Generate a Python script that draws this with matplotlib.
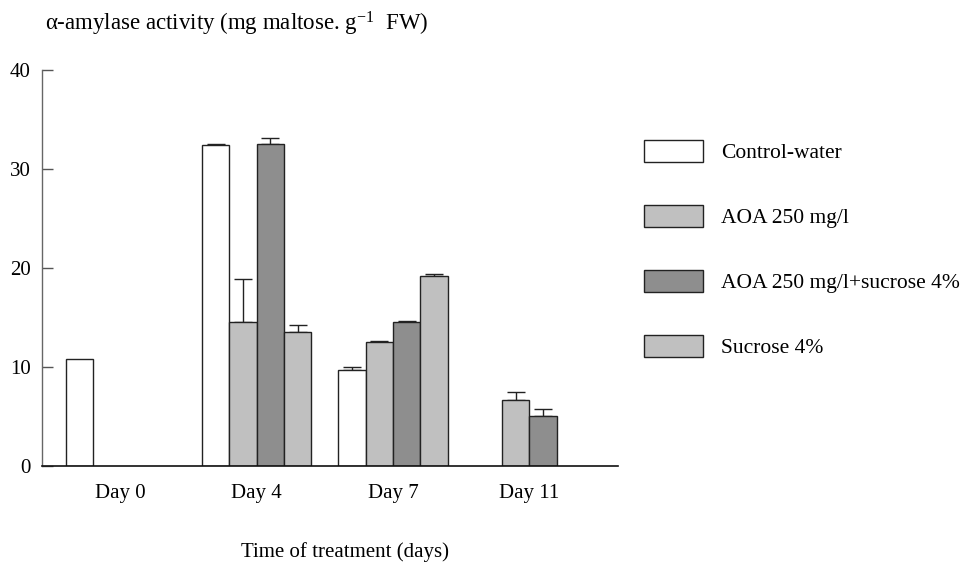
import matplotlib
matplotlib.use("Agg")
import matplotlib.pyplot as plt
import numpy as np
from matplotlib.patches import Patch

plt.rcParams['font.family'] = ['Liberation Serif', 'DejaVu Serif']
plt.rcParams['mathtext.fontset'] = 'custom'
plt.rcParams['mathtext.rm'] = 'Liberation Serif'
plt.rcParams['mathtext.it'] = 'Liberation Serif:italic'

days = ["Day 0", "Day 4", "Day 7", "Day 11"]
series = ["Control-water", "AOA 250 mg/l", "AOA 250 mg/l+sucrose 4%", "Sucrose 4%"]
control = [10.85, 32.4, 9.7, np.nan]
aoa = [np.nan, 14.55, 12.55, 6.7]
aoa_suc = [np.nan, 32.55, 14.55, 5.1]
sucrose = [np.nan, 13.5, 19.15, np.nan]
control_err = [0.0, 0.1, 0.25, np.nan]
aoa_err = [np.nan, 4.35, 0.1, 0.8]
aoa_suc_err = [np.nan, 0.55, 0.05, 0.65]
sucrose_err = [np.nan, 0.7, 0.2, np.nan]

values = [control, aoa, aoa_suc, sucrose]
errors = [control_err, aoa_err, aoa_suc_err, sucrose_err]
colors = ["#ffffff", "#c0c0c0", "#8e8e8e", "#c0c0c0"]

fig = plt.figure(figsize=(9.62, 5.66), dpi=100)
ax = fig.add_axes([42/962, 1-466/566, 576/962, 396/566])

group_step = 5
for i, (vals, errs, col) in enumerate(zip(values, errors, colors)):
    vals = np.array(vals, dtype=float)
    errs = np.array(errs, dtype=float)
    x = np.arange(len(days)) * group_step + i
    m = ~np.isnan(vals)
    ax.bar(x[m], vals[m], width=1.0, color=col, edgecolor="#222222", linewidth=1.0, zorder=2)
    em = m & ~np.isnan(errs) & (np.nan_to_num(errs) > 0)
    if em.any():
        ax.errorbar(x[em], vals[em], yerr=[np.zeros(em.sum()), errs[em]], fmt='none',
                    ecolor='#222222', elinewidth=1.0, capsize=6.5, capthick=1.0, zorder=1)

ax.set_xlim(-1.368, 19.75)
ax.set_ylim(0, 40)
ax.set_yticks([0, 10, 20, 30, 40])
ax.set_xticks(np.arange(len(days)) * group_step + 1.5)
ax.set_xticklabels(days)
ax.tick_params(axis='x', length=0, pad=13, labelsize=15)
ax.tick_params(axis='y', direction='in', length=8, width=1, color='#555555', pad=8, labelsize=15)
for s in ['top', 'right']:
    ax.spines[s].set_visible(False)
ax.spines['left'].set_color('#666666')
ax.spines['left'].set_linewidth(1.0)
ax.spines['bottom'].set_color('#111111')
ax.spines['bottom'].set_linewidth(1.2)

ax.set_xlabel("Time of treatment (days)", fontsize=15, va='center')
ax.xaxis.set_label_coords((345-42)/576, (466-552)/396)

fig.text(45/962, 1-30/566, "α-amylase activity (mg maltose. g$^{\\mathrm{-1}}$  FW)",
         fontsize=16.5, ha='left', va='baseline')

handles = [Patch(facecolor=c, edgecolor='#222222', linewidth=1.0) for c in colors]
lfs = 15.5
fs = lfs * 100 / 72
ax.legend(handles, series, loc='upper left', bbox_to_anchor=(644/962, 1-140/566),
          bbox_transform=fig.transFigure, frameon=False, fontsize=lfs,
          handlelength=59/fs, handleheight=25/fs, handletextpad=18/fs,
          labelspacing=1.95, borderpad=0, borderaxespad=0)

fig.savefig("out.png", dpi=100)
